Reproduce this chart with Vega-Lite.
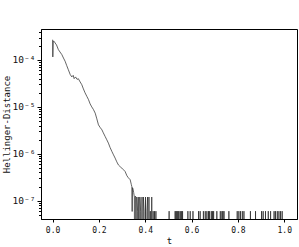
{
  "$schema": "https://vega.github.io/schema/vega-lite/v6.json",
  "width": 256,
  "height": 190,
  "autosize": {"type": "none"},
  "padding": {"left": 41, "top": 29, "right": 2, "bottom": 28},
  "background": "white",
  "config": {
    "view": {"stroke": "black", "strokeWidth": 1},
    "font": "DejaVu Sans Mono",
    "axis": {"grid": false, "domainColor": "black", "tickColor": "black", "labelColor": "#111", "titleColor": "#111", "titleFontWeight": "normal", "labelFont": "DejaVu Sans Mono", "titleFont": "DejaVu Sans Mono"}
  },
  "data": {
    "values": [
      {"t": 0.000, "v": 2.7e-4}, {"t": 0.001, "v": 1.16e-4}, {"t": 0.003, "v": 2.53e-4}, {"t": 0.0065, "v": 2.5e-4},
      {"t": 0.011, "v": 2.3e-4}, {"t": 0.017, "v": 2.09e-4}, {"t": 0.025, "v": 1.66e-4}, {"t": 0.032, "v": 1.48e-4},
      {"t": 0.040, "v": 1.30e-4}, {"t": 0.047, "v": 1.10e-4}, {"t": 0.054, "v": 9.4e-5}, {"t": 0.061, "v": 7.6e-5},
      {"t": 0.068, "v": 6.2e-5}, {"t": 0.076, "v": 4.9e-5}, {"t": 0.083, "v": 4.35e-5}, {"t": 0.089, "v": 4.7e-5},
      {"t": 0.093, "v": 4.0e-5}, {"t": 0.099, "v": 4.35e-5}, {"t": 0.106, "v": 3.85e-5}, {"t": 0.111, "v": 4.0e-5},
      {"t": 0.119, "v": 3.4e-5}, {"t": 0.126, "v": 2.98e-5}, {"t": 0.133, "v": 2.42e-5}, {"t": 0.140, "v": 2.0e-5},
      {"t": 0.148, "v": 1.67e-5}, {"t": 0.155, "v": 1.43e-5}, {"t": 0.162, "v": 1.16e-5}, {"t": 0.169, "v": 1.0e-5},
      {"t": 0.176, "v": 8.85e-6}, {"t": 0.184, "v": 7.35e-6}, {"t": 0.191, "v": 5.56e-6}, {"t": 0.198, "v": 4.14e-6},
      {"t": 0.205, "v": 3.66e-6}, {"t": 0.213, "v": 3.24e-6}, {"t": 0.219, "v": 2.8e-6}, {"t": 0.227, "v": 2.33e-6},
      {"t": 0.234, "v": 1.99e-6}, {"t": 0.241, "v": 1.69e-6}, {"t": 0.248, "v": 1.37e-6}, {"t": 0.256, "v": 1.12e-6},
      {"t": 0.263, "v": 9.5e-7}, {"t": 0.270, "v": 8.1e-7}, {"t": 0.277, "v": 6.76e-7}, {"t": 0.284, "v": 5.8e-7},
      {"t": 0.292, "v": 5.3e-7}, {"t": 0.299, "v": 4.96e-7}, {"t": 0.306, "v": 4.57e-7}, {"t": 0.313, "v": 4.2e-7},
      {"t": 0.321, "v": 3.4e-7}, {"t": 0.327, "v": 3.09e-7}, {"t": 0.335, "v": 2.8e-7}, {"t": 0.340, "v": 2.2e-7},
      {"t": 0.342, "v": 2.0e-7}, {"t": 0.3435, "v": 5.9e-8}, {"t": 0.345, "v": 1.9e-7}, {"t": 0.347, "v": 1.8e-7},
      {"t": 0.350, "v": 1.5e-7}, {"t": 0.353, "v": 1.2e-7}, {"t": 0.355, "v": 1e-12}, {"t": 0.357, "v": 1.25e-7},
      {"t": 0.360, "v": 1.2e-7}, {"t": 0.362, "v": 1e-12}, {"t": 0.364, "v": 1.2e-7}, {"t": 0.367, "v": 6e-8},
      {"t": 0.369, "v": 1e-12}, {"t": 0.372, "v": 1.2e-7}, {"t": 0.375, "v": 1e-12}, {"t": 0.377, "v": 1.2e-7},
      {"t": 0.380, "v": 6e-8}, {"t": 0.383, "v": 1e-12}, {"t": 0.386, "v": 1.2e-7}, {"t": 0.389, "v": 1e-12},
      {"t": 0.392, "v": 1.2e-7}, {"t": 0.395, "v": 6e-8}, {"t": 0.398, "v": 1e-12}, {"t": 0.401, "v": 1.2e-7},
      {"t": 0.404, "v": 1e-12}, {"t": 0.407, "v": 6e-8}, {"t": 0.410, "v": 1.2e-7}, {"t": 0.413, "v": 1e-12},
      {"t": 0.416, "v": 1.2e-7}, {"t": 0.419, "v": 1e-12}, {"t": 0.422, "v": 6e-8}, {"t": 0.425, "v": 1e-12},
      {"t": 0.428, "v": 1.2e-7}, {"t": 0.431, "v": 1e-12}, {"t": 0.434, "v": 6e-8}, {"t": 0.437, "v": 1e-12},
      {"t": 0.440, "v": 6e-8}, {"t": 0.443, "v": 1e-12}, {"t": 0.446, "v": 6e-8}, {"t": 0.449, "v": 1e-12},
      {"t": 0.4994, "v": 1e-12}, {"t": 0.503, "v": 6e-8}, {"t": 0.5036, "v": 1e-12},
      {"t": 0.5284, "v": 1e-12}, {"t": 0.529, "v": 6e-8}, {"t": 0.5296, "v": 1e-12},
      {"t": 0.5324, "v": 1e-12}, {"t": 0.533, "v": 6e-8}, {"t": 0.5336, "v": 1e-12},
      {"t": 0.5364, "v": 1e-12}, {"t": 0.537, "v": 6e-8}, {"t": 0.5376, "v": 1e-12},
      {"t": 0.5404, "v": 1e-12}, {"t": 0.541, "v": 6e-8}, {"t": 0.5416, "v": 1e-12},
      {"t": 0.5444, "v": 1e-12}, {"t": 0.545, "v": 6e-8}, {"t": 0.5456, "v": 1e-12},
      {"t": 0.5504, "v": 1e-12}, {"t": 0.551, "v": 6e-8}, {"t": 0.5516, "v": 1e-12},
      {"t": 0.5554, "v": 1e-12}, {"t": 0.556, "v": 6e-8}, {"t": 0.5566, "v": 1e-12},
      {"t": 0.5604, "v": 1e-12}, {"t": 0.561, "v": 6e-8}, {"t": 0.5616, "v": 1e-12},
      {"t": 0.5834, "v": 1e-12}, {"t": 0.584, "v": 6e-8}, {"t": 0.5846, "v": 1e-12},
      {"t": 0.5934, "v": 1e-12}, {"t": 0.594, "v": 6e-8}, {"t": 0.5946, "v": 1e-12},
      {"t": 0.6054, "v": 1e-12}, {"t": 0.606, "v": 6e-8}, {"t": 0.6066, "v": 1e-12},
      {"t": 0.6294, "v": 1e-12}, {"t": 0.630, "v": 6e-8}, {"t": 0.6306, "v": 1e-12},
      {"t": 0.6364, "v": 1e-12}, {"t": 0.637, "v": 6e-8}, {"t": 0.6376, "v": 1e-12},
      {"t": 0.6504, "v": 1e-12}, {"t": 0.651, "v": 6e-8}, {"t": 0.6516, "v": 1e-12},
      {"t": 0.6584, "v": 1e-12}, {"t": 0.659, "v": 6e-8}, {"t": 0.6596, "v": 1e-12},
      {"t": 0.6654, "v": 1e-12}, {"t": 0.666, "v": 6e-8}, {"t": 0.6666, "v": 1e-12},
      {"t": 0.6724, "v": 1e-12}, {"t": 0.673, "v": 6e-8}, {"t": 0.6736, "v": 1e-12},
      {"t": 0.6764, "v": 1e-12}, {"t": 0.677, "v": 6e-8}, {"t": 0.6776, "v": 1e-12},
      {"t": 0.6844, "v": 1e-12}, {"t": 0.685, "v": 6e-8}, {"t": 0.6856, "v": 1e-12},
      {"t": 0.6894, "v": 1e-12}, {"t": 0.690, "v": 6e-8}, {"t": 0.6906, "v": 1e-12},
      {"t": 0.6944, "v": 1e-12}, {"t": 0.695, "v": 6e-8}, {"t": 0.6956, "v": 1e-12},
      {"t": 0.7084, "v": 1e-12}, {"t": 0.709, "v": 6e-8}, {"t": 0.7096, "v": 1e-12},
      {"t": 0.7234, "v": 1e-12}, {"t": 0.724, "v": 6e-8}, {"t": 0.7246, "v": 1e-12},
      {"t": 0.7304, "v": 1e-12}, {"t": 0.731, "v": 6e-8}, {"t": 0.7316, "v": 1e-12},
      {"t": 0.7344, "v": 1e-12}, {"t": 0.735, "v": 6e-8}, {"t": 0.7356, "v": 1e-12},
      {"t": 0.7394, "v": 1e-12}, {"t": 0.740, "v": 6e-8}, {"t": 0.7406, "v": 1e-12},
      {"t": 0.7604, "v": 1e-12}, {"t": 0.761, "v": 6e-8}, {"t": 0.7616, "v": 1e-12},
      {"t": 0.7964, "v": 1e-12}, {"t": 0.797, "v": 6e-8}, {"t": 0.7976, "v": 1e-12},
      {"t": 0.8034, "v": 1e-12}, {"t": 0.804, "v": 6e-8}, {"t": 0.8046, "v": 1e-12},
      {"t": 0.8104, "v": 1e-12}, {"t": 0.811, "v": 6e-8}, {"t": 0.8116, "v": 1e-12},
      {"t": 0.8184, "v": 1e-12}, {"t": 0.819, "v": 6e-8}, {"t": 0.8196, "v": 1e-12},
      {"t": 0.8254, "v": 1e-12}, {"t": 0.826, "v": 6e-8}, {"t": 0.8266, "v": 1e-12},
      {"t": 0.8534, "v": 1e-12}, {"t": 0.854, "v": 6e-8}, {"t": 0.8546, "v": 1e-12},
      {"t": 0.8754, "v": 1e-12}, {"t": 0.876, "v": 6e-8}, {"t": 0.8766, "v": 1e-12},
      {"t": 0.9014, "v": 1e-12}, {"t": 0.902, "v": 6e-8}, {"t": 0.9026, "v": 1e-12},
      {"t": 0.9084, "v": 1e-12}, {"t": 0.909, "v": 6e-8}, {"t": 0.9096, "v": 1e-12},
      {"t": 0.9184, "v": 1e-12}, {"t": 0.919, "v": 6e-8}, {"t": 0.9196, "v": 1e-12},
      {"t": 0.9304, "v": 1e-12}, {"t": 0.931, "v": 6e-8}, {"t": 0.9316, "v": 1e-12},
      {"t": 0.9404, "v": 1e-12}, {"t": 0.941, "v": 6e-8}, {"t": 0.9416, "v": 1e-12},
      {"t": 0.9554, "v": 1e-12}, {"t": 0.956, "v": 6e-8}, {"t": 0.9566, "v": 1e-12},
      {"t": 0.9614, "v": 1e-12}, {"t": 0.962, "v": 6e-8}, {"t": 0.9626, "v": 1e-12},
      {"t": 0.9694, "v": 1e-12}, {"t": 0.970, "v": 6e-8}, {"t": 0.9706, "v": 1e-12},
      {"t": 0.9764, "v": 1e-12}, {"t": 0.977, "v": 6e-8}, {"t": 0.9776, "v": 1e-12},
      {"t": 0.9834, "v": 1e-12}, {"t": 0.984, "v": 6e-8}, {"t": 0.9846, "v": 1e-12},
      {"t": 0.9904, "v": 1e-12}, {"t": 0.991, "v": 6e-8}, {"t": 0.9916, "v": 1e-12},
      {"t": 1.0, "v": 1e-12}
    ]
  },
  "layer": [
    {
      "mark": {"type": "line", "clip": true, "color": "#222", "strokeWidth": 0.7},
      "encoding": {
        "x": {
          "field": "t", "type": "quantitative",
          "scale": {"domain": [-0.05, 1.055], "nice": false, "zero": false},
          "axis": {"values": [0, 0.2, 0.4, 0.6, 0.8, 1.0], "format": ".1f", "tickSize": 3, "labelPadding": 4, "labelFontSize": 8, "title": "t", "titleFontSize": 9, "titlePadding": 2}
        },
        "y": {
          "field": "v", "type": "quantitative",
          "scale": {"type": "log", "domain": [4.08e-8, 4.57e-4], "nice": false},
          "axis": {"orient": "left", "values": [1e-7, 1e-6, 1e-5, 1e-4], "labelExpr": "datum.value < 5e-7 ? '10⁻⁷' : datum.value < 5e-6 ? '10⁻⁶' : datum.value < 5e-5 ? '10⁻⁵' : '10⁻⁴'", "tickSize": 4, "labelPadding": 2, "labelFontSize": 9.5, "title": "Hellinger-Distance", "titleFontSize": 9, "titlePadding": 1}
        }
      }
    },
    {
      "mark": {"type": "point", "opacity": 0, "clip": true},
      "encoding": {
        "x": {"field": "t", "type": "quantitative"},
        "y": {
          "field": "v", "type": "quantitative",
          "axis": {"orient": "left", "values": [5e-8, 6e-8, 7e-8, 8e-8, 9e-8, 2e-7, 3e-7, 4e-7, 5e-7, 6e-7, 7e-7, 8e-7, 9e-7, 2e-6, 3e-6, 4e-6, 5e-6, 6e-6, 7e-6, 8e-6, 9e-6, 2e-5, 3e-5, 4e-5, 5e-5, 6e-5, 7e-5, 8e-5, 9e-5, 2e-4, 3e-4, 4e-4], "labels": false, "tickSize": 2.5, "domain": false, "title": null}
        }
      }
    }
  ],
  "resolve": {"axis": {"y": "independent"}}
}
